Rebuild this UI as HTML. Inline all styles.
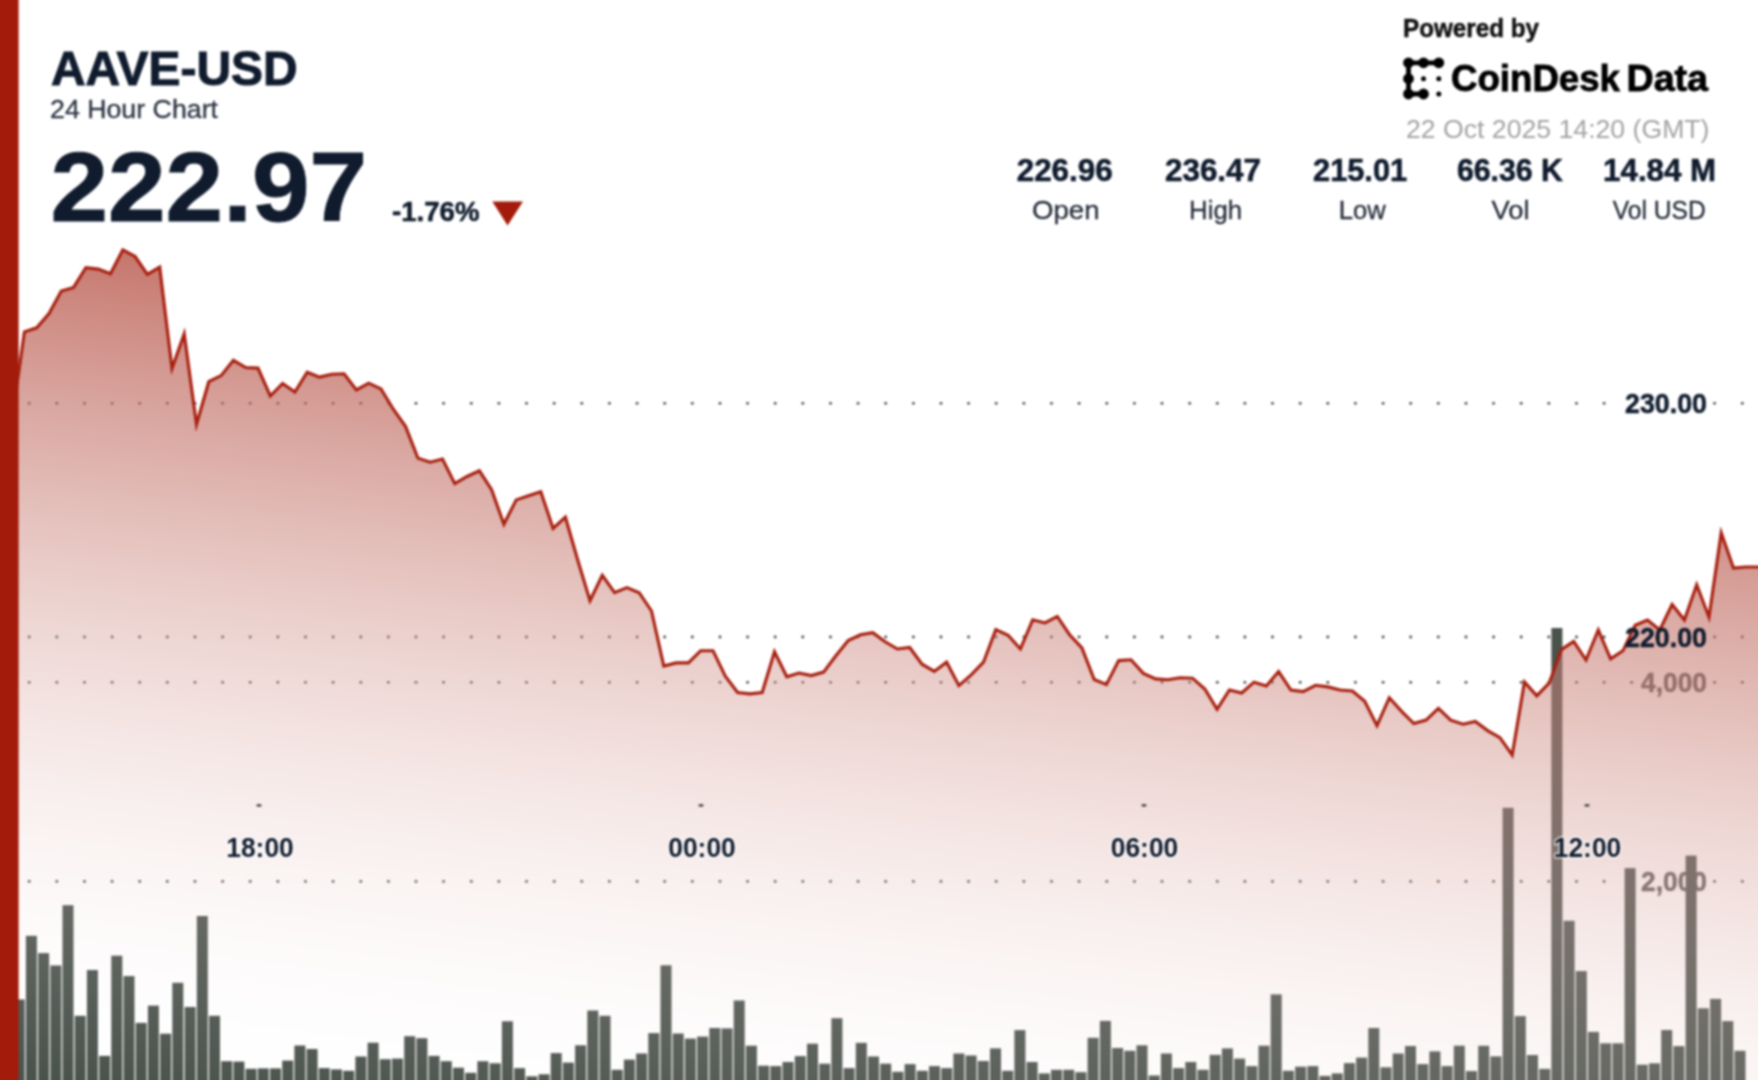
<!DOCTYPE html>
<html lang="en"><head><meta charset="utf-8"><title>AAVE-USD 24 Hour Chart</title>
<style>
html,body{margin:0;padding:0;background:#fff;}
body{width:1758px;height:1080px;overflow:hidden;font-family:"Liberation Sans",sans-serif;}
body{position:relative;}
svg{display:block;position:absolute;left:-30px;top:-30px;filter:blur(1px);}
text{font-family:"Liberation Sans",sans-serif;}
.b{font-weight:700;}
.navy{fill:#101c2e;}
</style></head><body>
<svg width="1818" height="1140" viewBox="-30 -30 1818 1140">
<defs>
<linearGradient id="ag" gradientUnits="userSpaceOnUse" x1="100" y1="31" x2="-26.8" y2="1070.5">
<stop offset="0.0000" stop-color="rgb(160,29,13)" stop-opacity="0.9600"/><stop offset="0.0417" stop-color="rgb(164,39,23)" stop-opacity="0.9200"/><stop offset="0.0833" stop-color="rgb(168,48,33)" stop-opacity="0.8800"/><stop offset="0.1250" stop-color="rgb(172,58,44)" stop-opacity="0.8400"/><stop offset="0.1667" stop-color="rgb(176,67,54)" stop-opacity="0.8000"/><stop offset="0.2083" stop-color="rgb(180,76,64)" stop-opacity="0.7600"/><stop offset="0.2500" stop-color="rgb(184,86,74)" stop-opacity="0.7200"/><stop offset="0.2917" stop-color="rgb(187,95,84)" stop-opacity="0.6800"/><stop offset="0.3333" stop-color="rgb(191,105,94)" stop-opacity="0.6400"/><stop offset="0.3750" stop-color="rgb(195,114,104)" stop-opacity="0.6000"/><stop offset="0.4167" stop-color="rgb(199,123,114)" stop-opacity="0.5600"/><stop offset="0.4583" stop-color="rgb(203,133,124)" stop-opacity="0.5200"/><stop offset="0.5000" stop-color="rgb(207,142,134)" stop-opacity="0.4800"/><stop offset="0.5417" stop-color="rgb(211,152,144)" stop-opacity="0.4400"/><stop offset="0.5833" stop-color="rgb(215,161,154)" stop-opacity="0.4000"/><stop offset="0.6250" stop-color="rgb(219,170,164)" stop-opacity="0.3600"/><stop offset="0.6667" stop-color="rgb(223,180,174)" stop-opacity="0.3200"/><stop offset="0.7083" stop-color="rgb(227,189,185)" stop-opacity="0.2800"/><stop offset="0.7500" stop-color="rgb(231,199,195)" stop-opacity="0.2400"/><stop offset="0.7917" stop-color="rgb(235,208,205)" stop-opacity="0.2000"/><stop offset="0.8333" stop-color="rgb(239,217,215)" stop-opacity="0.1600"/><stop offset="0.8750" stop-color="rgb(243,227,225)" stop-opacity="0.1200"/><stop offset="0.9167" stop-color="rgb(247,236,235)" stop-opacity="0.0800"/><stop offset="0.9583" stop-color="rgb(251,246,245)" stop-opacity="0.0400"/><stop offset="1.0000" stop-color="rgb(255,255,255)" stop-opacity="0.0000"/>
</linearGradient>
</defs>
<g>
<rect x="-30" y="-30" width="1818" height="1140" fill="#fff"/>
<g fill="#454545"><circle cx="29.2" cy="403.3" r="1.4"/><circle cx="56.8" cy="403.3" r="1.4"/><circle cx="84.5" cy="403.3" r="1.4"/><circle cx="112.1" cy="403.3" r="1.4"/><circle cx="139.7" cy="403.3" r="1.4"/><circle cx="167.3" cy="403.3" r="1.4"/><circle cx="195" cy="403.3" r="1.4"/><circle cx="222.6" cy="403.3" r="1.4"/><circle cx="250.2" cy="403.3" r="1.4"/><circle cx="277.9" cy="403.3" r="1.4"/><circle cx="305.5" cy="403.3" r="1.4"/><circle cx="333.1" cy="403.3" r="1.4"/><circle cx="360.8" cy="403.3" r="1.4"/><circle cx="388.4" cy="403.3" r="1.4"/><circle cx="416" cy="403.3" r="1.4"/><circle cx="443.6" cy="403.3" r="1.4"/><circle cx="471.3" cy="403.3" r="1.4"/><circle cx="498.9" cy="403.3" r="1.4"/><circle cx="526.5" cy="403.3" r="1.4"/><circle cx="554.2" cy="403.3" r="1.4"/><circle cx="581.8" cy="403.3" r="1.4"/><circle cx="609.4" cy="403.3" r="1.4"/><circle cx="637.1" cy="403.3" r="1.4"/><circle cx="664.7" cy="403.3" r="1.4"/><circle cx="692.3" cy="403.3" r="1.4"/><circle cx="720" cy="403.3" r="1.4"/><circle cx="747.6" cy="403.3" r="1.4"/><circle cx="775.2" cy="403.3" r="1.4"/><circle cx="802.8" cy="403.3" r="1.4"/><circle cx="830.5" cy="403.3" r="1.4"/><circle cx="858.1" cy="403.3" r="1.4"/><circle cx="885.7" cy="403.3" r="1.4"/><circle cx="913.4" cy="403.3" r="1.4"/><circle cx="941" cy="403.3" r="1.4"/><circle cx="968.6" cy="403.3" r="1.4"/><circle cx="996.2" cy="403.3" r="1.4"/><circle cx="1023.9" cy="403.3" r="1.4"/><circle cx="1051.5" cy="403.3" r="1.4"/><circle cx="1079.1" cy="403.3" r="1.4"/><circle cx="1106.8" cy="403.3" r="1.4"/><circle cx="1134.4" cy="403.3" r="1.4"/><circle cx="1162" cy="403.3" r="1.4"/><circle cx="1189.7" cy="403.3" r="1.4"/><circle cx="1217.3" cy="403.3" r="1.4"/><circle cx="1244.9" cy="403.3" r="1.4"/><circle cx="1272.5" cy="403.3" r="1.4"/><circle cx="1300.2" cy="403.3" r="1.4"/><circle cx="1327.8" cy="403.3" r="1.4"/><circle cx="1355.4" cy="403.3" r="1.4"/><circle cx="1383.1" cy="403.3" r="1.4"/><circle cx="1410.7" cy="403.3" r="1.4"/><circle cx="1438.3" cy="403.3" r="1.4"/><circle cx="1466" cy="403.3" r="1.4"/><circle cx="1493.6" cy="403.3" r="1.4"/><circle cx="1521.2" cy="403.3" r="1.4"/><circle cx="1548.8" cy="403.3" r="1.4"/><circle cx="1576.5" cy="403.3" r="1.4"/><circle cx="1604.1" cy="403.3" r="1.4"/><circle cx="1714.6" cy="403.3" r="1.4"/><circle cx="1742.3" cy="403.3" r="1.4"/><circle cx="29.2" cy="637" r="1.4"/><circle cx="56.8" cy="637" r="1.4"/><circle cx="84.5" cy="637" r="1.4"/><circle cx="112.1" cy="637" r="1.4"/><circle cx="139.7" cy="637" r="1.4"/><circle cx="167.3" cy="637" r="1.4"/><circle cx="195" cy="637" r="1.4"/><circle cx="222.6" cy="637" r="1.4"/><circle cx="250.2" cy="637" r="1.4"/><circle cx="277.9" cy="637" r="1.4"/><circle cx="305.5" cy="637" r="1.4"/><circle cx="333.1" cy="637" r="1.4"/><circle cx="360.8" cy="637" r="1.4"/><circle cx="388.4" cy="637" r="1.4"/><circle cx="416" cy="637" r="1.4"/><circle cx="443.6" cy="637" r="1.4"/><circle cx="471.3" cy="637" r="1.4"/><circle cx="498.9" cy="637" r="1.4"/><circle cx="526.5" cy="637" r="1.4"/><circle cx="554.2" cy="637" r="1.4"/><circle cx="581.8" cy="637" r="1.4"/><circle cx="609.4" cy="637" r="1.4"/><circle cx="637.1" cy="637" r="1.4"/><circle cx="664.7" cy="637" r="1.4"/><circle cx="692.3" cy="637" r="1.4"/><circle cx="720" cy="637" r="1.4"/><circle cx="747.6" cy="637" r="1.4"/><circle cx="775.2" cy="637" r="1.4"/><circle cx="802.8" cy="637" r="1.4"/><circle cx="830.5" cy="637" r="1.4"/><circle cx="858.1" cy="637" r="1.4"/><circle cx="885.7" cy="637" r="1.4"/><circle cx="913.4" cy="637" r="1.4"/><circle cx="941" cy="637" r="1.4"/><circle cx="968.6" cy="637" r="1.4"/><circle cx="996.2" cy="637" r="1.4"/><circle cx="1023.9" cy="637" r="1.4"/><circle cx="1051.5" cy="637" r="1.4"/><circle cx="1079.1" cy="637" r="1.4"/><circle cx="1106.8" cy="637" r="1.4"/><circle cx="1134.4" cy="637" r="1.4"/><circle cx="1162" cy="637" r="1.4"/><circle cx="1189.7" cy="637" r="1.4"/><circle cx="1217.3" cy="637" r="1.4"/><circle cx="1244.9" cy="637" r="1.4"/><circle cx="1272.5" cy="637" r="1.4"/><circle cx="1300.2" cy="637" r="1.4"/><circle cx="1327.8" cy="637" r="1.4"/><circle cx="1355.4" cy="637" r="1.4"/><circle cx="1383.1" cy="637" r="1.4"/><circle cx="1410.7" cy="637" r="1.4"/><circle cx="1438.3" cy="637" r="1.4"/><circle cx="1466" cy="637" r="1.4"/><circle cx="1493.6" cy="637" r="1.4"/><circle cx="1521.2" cy="637" r="1.4"/><circle cx="1548.8" cy="637" r="1.4"/><circle cx="1576.5" cy="637" r="1.4"/><circle cx="1604.1" cy="637" r="1.4"/><circle cx="1714.6" cy="637" r="1.4"/><circle cx="1742.3" cy="637" r="1.4"/><circle cx="29.2" cy="682.3" r="1.4"/><circle cx="56.8" cy="682.3" r="1.4"/><circle cx="84.5" cy="682.3" r="1.4"/><circle cx="112.1" cy="682.3" r="1.4"/><circle cx="139.7" cy="682.3" r="1.4"/><circle cx="167.3" cy="682.3" r="1.4"/><circle cx="195" cy="682.3" r="1.4"/><circle cx="222.6" cy="682.3" r="1.4"/><circle cx="250.2" cy="682.3" r="1.4"/><circle cx="277.9" cy="682.3" r="1.4"/><circle cx="305.5" cy="682.3" r="1.4"/><circle cx="333.1" cy="682.3" r="1.4"/><circle cx="360.8" cy="682.3" r="1.4"/><circle cx="388.4" cy="682.3" r="1.4"/><circle cx="416" cy="682.3" r="1.4"/><circle cx="443.6" cy="682.3" r="1.4"/><circle cx="471.3" cy="682.3" r="1.4"/><circle cx="498.9" cy="682.3" r="1.4"/><circle cx="526.5" cy="682.3" r="1.4"/><circle cx="554.2" cy="682.3" r="1.4"/><circle cx="581.8" cy="682.3" r="1.4"/><circle cx="609.4" cy="682.3" r="1.4"/><circle cx="637.1" cy="682.3" r="1.4"/><circle cx="664.7" cy="682.3" r="1.4"/><circle cx="692.3" cy="682.3" r="1.4"/><circle cx="720" cy="682.3" r="1.4"/><circle cx="747.6" cy="682.3" r="1.4"/><circle cx="775.2" cy="682.3" r="1.4"/><circle cx="802.8" cy="682.3" r="1.4"/><circle cx="830.5" cy="682.3" r="1.4"/><circle cx="858.1" cy="682.3" r="1.4"/><circle cx="885.7" cy="682.3" r="1.4"/><circle cx="913.4" cy="682.3" r="1.4"/><circle cx="941" cy="682.3" r="1.4"/><circle cx="968.6" cy="682.3" r="1.4"/><circle cx="996.2" cy="682.3" r="1.4"/><circle cx="1023.9" cy="682.3" r="1.4"/><circle cx="1051.5" cy="682.3" r="1.4"/><circle cx="1079.1" cy="682.3" r="1.4"/><circle cx="1106.8" cy="682.3" r="1.4"/><circle cx="1134.4" cy="682.3" r="1.4"/><circle cx="1162" cy="682.3" r="1.4"/><circle cx="1189.7" cy="682.3" r="1.4"/><circle cx="1217.3" cy="682.3" r="1.4"/><circle cx="1244.9" cy="682.3" r="1.4"/><circle cx="1272.5" cy="682.3" r="1.4"/><circle cx="1300.2" cy="682.3" r="1.4"/><circle cx="1327.8" cy="682.3" r="1.4"/><circle cx="1355.4" cy="682.3" r="1.4"/><circle cx="1383.1" cy="682.3" r="1.4"/><circle cx="1410.7" cy="682.3" r="1.4"/><circle cx="1438.3" cy="682.3" r="1.4"/><circle cx="1466" cy="682.3" r="1.4"/><circle cx="1493.6" cy="682.3" r="1.4"/><circle cx="1521.2" cy="682.3" r="1.4"/><circle cx="1548.8" cy="682.3" r="1.4"/><circle cx="1576.5" cy="682.3" r="1.4"/><circle cx="1604.1" cy="682.3" r="1.4"/><circle cx="1631.7" cy="682.3" r="1.4"/><circle cx="1714.6" cy="682.3" r="1.4"/><circle cx="1742.3" cy="682.3" r="1.4"/><circle cx="29.2" cy="881.4" r="1.4"/><circle cx="56.8" cy="881.4" r="1.4"/><circle cx="84.5" cy="881.4" r="1.4"/><circle cx="112.1" cy="881.4" r="1.4"/><circle cx="139.7" cy="881.4" r="1.4"/><circle cx="167.3" cy="881.4" r="1.4"/><circle cx="195" cy="881.4" r="1.4"/><circle cx="222.6" cy="881.4" r="1.4"/><circle cx="250.2" cy="881.4" r="1.4"/><circle cx="277.9" cy="881.4" r="1.4"/><circle cx="305.5" cy="881.4" r="1.4"/><circle cx="333.1" cy="881.4" r="1.4"/><circle cx="360.8" cy="881.4" r="1.4"/><circle cx="388.4" cy="881.4" r="1.4"/><circle cx="416" cy="881.4" r="1.4"/><circle cx="443.6" cy="881.4" r="1.4"/><circle cx="471.3" cy="881.4" r="1.4"/><circle cx="498.9" cy="881.4" r="1.4"/><circle cx="526.5" cy="881.4" r="1.4"/><circle cx="554.2" cy="881.4" r="1.4"/><circle cx="581.8" cy="881.4" r="1.4"/><circle cx="609.4" cy="881.4" r="1.4"/><circle cx="637.1" cy="881.4" r="1.4"/><circle cx="664.7" cy="881.4" r="1.4"/><circle cx="692.3" cy="881.4" r="1.4"/><circle cx="720" cy="881.4" r="1.4"/><circle cx="747.6" cy="881.4" r="1.4"/><circle cx="775.2" cy="881.4" r="1.4"/><circle cx="802.8" cy="881.4" r="1.4"/><circle cx="830.5" cy="881.4" r="1.4"/><circle cx="858.1" cy="881.4" r="1.4"/><circle cx="885.7" cy="881.4" r="1.4"/><circle cx="913.4" cy="881.4" r="1.4"/><circle cx="941" cy="881.4" r="1.4"/><circle cx="968.6" cy="881.4" r="1.4"/><circle cx="996.2" cy="881.4" r="1.4"/><circle cx="1023.9" cy="881.4" r="1.4"/><circle cx="1051.5" cy="881.4" r="1.4"/><circle cx="1079.1" cy="881.4" r="1.4"/><circle cx="1106.8" cy="881.4" r="1.4"/><circle cx="1134.4" cy="881.4" r="1.4"/><circle cx="1162" cy="881.4" r="1.4"/><circle cx="1189.7" cy="881.4" r="1.4"/><circle cx="1217.3" cy="881.4" r="1.4"/><circle cx="1244.9" cy="881.4" r="1.4"/><circle cx="1272.5" cy="881.4" r="1.4"/><circle cx="1300.2" cy="881.4" r="1.4"/><circle cx="1327.8" cy="881.4" r="1.4"/><circle cx="1355.4" cy="881.4" r="1.4"/><circle cx="1383.1" cy="881.4" r="1.4"/><circle cx="1410.7" cy="881.4" r="1.4"/><circle cx="1438.3" cy="881.4" r="1.4"/><circle cx="1466" cy="881.4" r="1.4"/><circle cx="1493.6" cy="881.4" r="1.4"/><circle cx="1521.2" cy="881.4" r="1.4"/><circle cx="1548.8" cy="881.4" r="1.4"/><circle cx="1576.5" cy="881.4" r="1.4"/><circle cx="1604.1" cy="881.4" r="1.4"/><circle cx="1631.7" cy="881.4" r="1.4"/><circle cx="1714.6" cy="881.4" r="1.4"/><circle cx="1742.3" cy="881.4" r="1.4"/></g>
<g class="b" font-size="28.5" fill="#5a5a5a" stroke="#5a5a5a" stroke-width="0.5" text-anchor="end">
<text x="1707" y="692" textLength="66" lengthAdjust="spacingAndGlyphs">4,000</text>
<text x="1707" y="891" textLength="66" lengthAdjust="spacingAndGlyphs">2,000</text>
</g>
<g fill="#4a524c"><rect x="13.7" y="999.5" width="11.0" height="100.5"/><rect x="25.9" y="935.8" width="11.0" height="164.2"/><rect x="38.1" y="953.1" width="11.0" height="146.9"/><rect x="50.3" y="965.5" width="11.0" height="134.5"/><rect x="62.5" y="905.2" width="11.0" height="194.8"/><rect x="74.7" y="1015.8" width="11.0" height="84.2"/><rect x="86.9" y="970" width="11.0" height="130"/><rect x="99.1" y="1055.9" width="11.0" height="44.1"/><rect x="111.3" y="955.7" width="11.0" height="144.3"/><rect x="123.5" y="976.1" width="11.0" height="123.9"/><rect x="135.7" y="1022.9" width="11.0" height="77.1"/><rect x="147.9" y="1005.6" width="11.0" height="94.4"/><rect x="160.1" y="1033.7" width="11.0" height="66.3"/><rect x="172.3" y="982.8" width="11.0" height="117.2"/><rect x="184.6" y="1007" width="11.0" height="93"/><rect x="196.8" y="916" width="11.0" height="184"/><rect x="209" y="1015.8" width="11.0" height="84.2"/><rect x="221.2" y="1061.2" width="11.0" height="38.8"/><rect x="233.4" y="1061.6" width="11.0" height="38.4"/><rect x="245.6" y="1068.8" width="11.0" height="31.2"/><rect x="257.8" y="1068.4" width="11.0" height="31.6"/><rect x="270" y="1068.4" width="11.0" height="31.6"/><rect x="282.2" y="1060.6" width="11.0" height="39.4"/><rect x="294.4" y="1045.5" width="11.0" height="54.5"/><rect x="306.6" y="1049" width="11.0" height="51"/><rect x="318.8" y="1068.1" width="11.0" height="31.9"/><rect x="331" y="1069.4" width="11.0" height="30.6"/><rect x="343.2" y="1070.8" width="11.0" height="29.2"/><rect x="355.4" y="1056.5" width="11.0" height="43.5"/><rect x="367.6" y="1042.7" width="11.0" height="57.3"/><rect x="379.8" y="1059.2" width="11.0" height="40.8"/><rect x="392" y="1058.6" width="11.0" height="41.4"/><rect x="404.2" y="1036.2" width="11.0" height="63.8"/><rect x="416.4" y="1038.2" width="11.0" height="61.8"/><rect x="428.6" y="1055.9" width="11.0" height="44.1"/><rect x="440.8" y="1061.2" width="11.0" height="38.8"/><rect x="453" y="1067.7" width="11.0" height="32.3"/><rect x="465.2" y="1072.8" width="11.0" height="27.2"/><rect x="477.4" y="1061.2" width="11.0" height="38.8"/><rect x="489.7" y="1063.3" width="11.0" height="36.7"/><rect x="501.9" y="1021.3" width="11.0" height="78.7"/><rect x="514.1" y="1068.1" width="11.0" height="31.9"/><rect x="526.3" y="1076.3" width="11.0" height="23.7"/><rect x="538.5" y="1074.3" width="11.0" height="25.7"/><rect x="550.7" y="1053.1" width="11.0" height="46.9"/><rect x="562.9" y="1062.6" width="11.0" height="37.4"/><rect x="575.1" y="1045.3" width="11.0" height="54.7"/><rect x="587.3" y="1010.5" width="11.0" height="89.5"/><rect x="599.5" y="1015.8" width="11.0" height="84.2"/><rect x="611.7" y="1069.8" width="11.0" height="30.2"/><rect x="623.9" y="1059.6" width="11.0" height="40.4"/><rect x="636.1" y="1053.5" width="11.0" height="46.5"/><rect x="648.3" y="1033.1" width="11.0" height="66.9"/><rect x="660.5" y="965.3" width="11.0" height="134.7"/><rect x="672.7" y="1033.5" width="11.0" height="66.5"/><rect x="684.9" y="1038.6" width="11.0" height="61.4"/><rect x="697.1" y="1036.6" width="11.0" height="63.4"/><rect x="709.3" y="1028" width="11.0" height="72"/><rect x="721.5" y="1028.4" width="11.0" height="71.6"/><rect x="733.7" y="1000.5" width="11.0" height="99.5"/><rect x="745.9" y="1045.7" width="11.0" height="54.3"/><rect x="758.1" y="1065.7" width="11.0" height="34.3"/><rect x="770.3" y="1066.1" width="11.0" height="33.9"/><rect x="782.5" y="1062" width="11.0" height="38"/><rect x="794.8" y="1056.1" width="11.0" height="43.9"/><rect x="807" y="1043.7" width="11.0" height="56.3"/><rect x="819.2" y="1063.7" width="11.0" height="36.3"/><rect x="831.4" y="1018.2" width="11.0" height="81.8"/><rect x="843.6" y="1068.1" width="11.0" height="31.9"/><rect x="855.8" y="1042.9" width="11.0" height="57.1"/><rect x="868" y="1056.5" width="11.0" height="43.5"/><rect x="880.2" y="1063.7" width="11.0" height="36.3"/><rect x="892.4" y="1071.8" width="11.0" height="28.2"/><rect x="904.6" y="1064.1" width="11.0" height="35.9"/><rect x="916.8" y="1070.8" width="11.0" height="29.2"/><rect x="929" y="1066.1" width="11.0" height="33.9"/><rect x="941.2" y="1068.1" width="11.0" height="31.9"/><rect x="953.4" y="1053.5" width="11.0" height="46.5"/><rect x="965.6" y="1055.5" width="11.0" height="44.5"/><rect x="977.8" y="1061" width="11.0" height="39"/><rect x="990" y="1048.4" width="11.0" height="51.6"/><rect x="1002.2" y="1070.8" width="11.0" height="29.2"/><rect x="1014.4" y="1030.1" width="11.0" height="69.9"/><rect x="1026.6" y="1062" width="11.0" height="38"/><rect x="1038.8" y="1073.4" width="11.0" height="26.6"/><rect x="1051" y="1069.8" width="11.0" height="30.2"/><rect x="1063.2" y="1069.8" width="11.0" height="30.2"/><rect x="1075.4" y="1072.2" width="11.0" height="27.8"/><rect x="1087.6" y="1037.8" width="11.0" height="62.2"/><rect x="1099.9" y="1020.9" width="11.0" height="79.1"/><rect x="1112.1" y="1048" width="11.0" height="52"/><rect x="1124.3" y="1050.8" width="11.0" height="49.2"/><rect x="1136.5" y="1045.3" width="11.0" height="54.7"/><rect x="1148.7" y="1075.5" width="11.0" height="24.5"/><rect x="1160.9" y="1053.5" width="11.0" height="46.5"/><rect x="1173.1" y="1068.1" width="11.0" height="31.9"/><rect x="1185.3" y="1062" width="11.0" height="38"/><rect x="1197.5" y="1069.8" width="11.0" height="30.2"/><rect x="1209.7" y="1054.9" width="11.0" height="45.1"/><rect x="1221.9" y="1048.4" width="11.0" height="51.6"/><rect x="1234.1" y="1058.6" width="11.0" height="41.4"/><rect x="1246.3" y="1066.1" width="11.0" height="33.9"/><rect x="1258.5" y="1045.7" width="11.0" height="54.3"/><rect x="1270.7" y="994.4" width="11.0" height="105.6"/><rect x="1282.9" y="1070.8" width="11.0" height="29.2"/><rect x="1295.1" y="1066.7" width="11.0" height="33.3"/><rect x="1307.3" y="1066.1" width="11.0" height="33.9"/><rect x="1319.5" y="1075.9" width="11.0" height="24.1"/><rect x="1331.7" y="1073.4" width="11.0" height="26.6"/><rect x="1343.9" y="1063.1" width="11.0" height="36.9"/><rect x="1356.1" y="1057.6" width="11.0" height="42.4"/><rect x="1368.3" y="1028" width="11.0" height="72"/><rect x="1380.5" y="1067.3" width="11.0" height="32.7"/><rect x="1392.7" y="1053.5" width="11.0" height="46.5"/><rect x="1405" y="1046" width="11.0" height="54"/><rect x="1417.2" y="1064.1" width="11.0" height="35.9"/><rect x="1429.4" y="1051.4" width="11.0" height="48.6"/><rect x="1441.6" y="1066.1" width="11.0" height="33.9"/><rect x="1453.8" y="1045.7" width="11.0" height="54.3"/><rect x="1466" y="1071.1" width="11.0" height="28.9"/><rect x="1478.2" y="1045.8" width="11.0" height="54.2"/><rect x="1490.4" y="1056.4" width="11.0" height="43.6"/><rect x="1502.6" y="807.8" width="11.0" height="292.2"/><rect x="1514.8" y="1016.1" width="11.0" height="83.9"/><rect x="1527" y="1055" width="11.0" height="45"/><rect x="1539.2" y="1068.9" width="11.0" height="31.1"/><rect x="1551.4" y="628" width="11.0" height="472"/><rect x="1563.6" y="920.8" width="11.0" height="179.2"/><rect x="1575.8" y="971.1" width="11.0" height="128.9"/><rect x="1588" y="1031.9" width="11.0" height="68.1"/><rect x="1600.2" y="1043.3" width="11.0" height="56.7"/><rect x="1612.4" y="1043.3" width="11.0" height="56.7"/><rect x="1624.6" y="868.1" width="11.0" height="231.9"/><rect x="1636.8" y="1064.7" width="11.0" height="35.3"/><rect x="1649" y="1063.3" width="11.0" height="36.7"/><rect x="1661.2" y="1030" width="11.0" height="70"/><rect x="1673.4" y="1046.1" width="11.0" height="53.9"/><rect x="1685.6" y="855.6" width="11.0" height="244.4"/><rect x="1697.8" y="1008.3" width="11.0" height="91.7"/><rect x="1710.1" y="998.9" width="11.0" height="101.1"/><rect x="1722.3" y="1021.1" width="11.0" height="78.9"/><rect x="1734.5" y="1050.8" width="11.0" height="49.2"/></g>
<path d="M12.1 420 L24.4 331.8 L36.7 327.8 L49 313.5 L61.3 291.1 L73.6 287.4 L85.9 267.7 L98.2 269.1 L110.5 273.8 L122.8 249.8 L135.1 256.5 L147.4 274.4 L159.7 267.1 L172 368.5 L184.2 333.9 L196.5 424.5 L208.8 381.7 L221.1 375.6 L233.4 360.3 L245.7 367.5 L258 368.1 L270.3 396 L282.6 383.5 L294.9 392 L307.2 372.2 L319.5 377.1 L331.8 374.2 L344.1 373.8 L356.4 389.9 L368.7 383.2 L381 388.9 L393.3 409.2 L405.6 426.6 L417.9 458.1 L430.2 462.2 L442.5 459.1 L454.8 483.6 L467.1 476.5 L479.4 470.8 L491.6 489.7 L503.9 524.3 L516.2 499.9 L528.5 495.8 L540.8 491.7 L553.1 528.4 L565.4 517.2 L577.7 560 L590 600.8 L602.3 575.4 L614.6 592.7 L626.9 587.6 L639.2 592.7 L651.5 611 L663.8 666 L676.1 662.9 L688.4 662.9 L700.7 650.7 L713 650.7 L725.3 676.2 L737.6 692.5 L749.9 693.9 L762.2 692.5 L774.5 651.7 L786.8 676.8 L799 673.1 L811.3 675.6 L823.6 672.1 L835.9 655.8 L848.2 640.5 L860.5 634.8 L872.8 632.7 L885.1 641.8 L897.4 649 L909.7 647.5 L922 664.2 L934.3 671.4 L946.6 662.2 L958.9 685.6 L971.2 674.8 L983.5 662.2 L995.8 629.6 L1008.1 635.3 L1020.4 649 L1032.7 619.8 L1045 622.9 L1057.3 616.4 L1069.6 634.7 L1081.9 647.9 L1094.2 679.5 L1106.4 684.6 L1118.7 660.6 L1131 659.8 L1143.3 673.4 L1155.6 678.9 L1167.9 679.8 L1180.2 677.8 L1192.5 678.2 L1204.8 689 L1217.1 709.3 L1229.4 690 L1241.7 693 L1254 682.2 L1266.3 685.9 L1278.6 671.6 L1290.9 690 L1303.2 691.6 L1315.5 685.3 L1327.8 686.9 L1340.1 690 L1352.4 691 L1364.7 701.2 L1377 725.6 L1389.3 697.7 L1401.6 711.4 L1413.8 723.6 L1426.1 720.1 L1438.4 708.3 L1450.7 720.2 L1463 724.2 L1475.3 721.4 L1487.6 730.6 L1499.9 737.6 L1512.2 755 L1524.5 682 L1536.8 695.9 L1549.1 683.2 L1561.4 649.6 L1573.7 641.5 L1586 660 L1598.3 630 L1610.6 658.9 L1622.9 650.8 L1635.2 625.3 L1647.5 620 L1659.8 630 L1672.1 604.5 L1684.4 620 L1696.7 584.8 L1709 617.2 L1721.2 532.7 L1733.5 568.1 L1745.8 567 L1780 567 L1780 567 L1780 1100 L12 1100 Z" fill="url(#ag)"/>
<path d="M12.1 420 L24.4 331.8 L36.7 327.8 L49 313.5 L61.3 291.1 L73.6 287.4 L85.9 267.7 L98.2 269.1 L110.5 273.8 L122.8 249.8 L135.1 256.5 L147.4 274.4 L159.7 267.1 L172 368.5 L184.2 333.9 L196.5 424.5 L208.8 381.7 L221.1 375.6 L233.4 360.3 L245.7 367.5 L258 368.1 L270.3 396 L282.6 383.5 L294.9 392 L307.2 372.2 L319.5 377.1 L331.8 374.2 L344.1 373.8 L356.4 389.9 L368.7 383.2 L381 388.9 L393.3 409.2 L405.6 426.6 L417.9 458.1 L430.2 462.2 L442.5 459.1 L454.8 483.6 L467.1 476.5 L479.4 470.8 L491.6 489.7 L503.9 524.3 L516.2 499.9 L528.5 495.8 L540.8 491.7 L553.1 528.4 L565.4 517.2 L577.7 560 L590 600.8 L602.3 575.4 L614.6 592.7 L626.9 587.6 L639.2 592.7 L651.5 611 L663.8 666 L676.1 662.9 L688.4 662.9 L700.7 650.7 L713 650.7 L725.3 676.2 L737.6 692.5 L749.9 693.9 L762.2 692.5 L774.5 651.7 L786.8 676.8 L799 673.1 L811.3 675.6 L823.6 672.1 L835.9 655.8 L848.2 640.5 L860.5 634.8 L872.8 632.7 L885.1 641.8 L897.4 649 L909.7 647.5 L922 664.2 L934.3 671.4 L946.6 662.2 L958.9 685.6 L971.2 674.8 L983.5 662.2 L995.8 629.6 L1008.1 635.3 L1020.4 649 L1032.7 619.8 L1045 622.9 L1057.3 616.4 L1069.6 634.7 L1081.9 647.9 L1094.2 679.5 L1106.4 684.6 L1118.7 660.6 L1131 659.8 L1143.3 673.4 L1155.6 678.9 L1167.9 679.8 L1180.2 677.8 L1192.5 678.2 L1204.8 689 L1217.1 709.3 L1229.4 690 L1241.7 693 L1254 682.2 L1266.3 685.9 L1278.6 671.6 L1290.9 690 L1303.2 691.6 L1315.5 685.3 L1327.8 686.9 L1340.1 690 L1352.4 691 L1364.7 701.2 L1377 725.6 L1389.3 697.7 L1401.6 711.4 L1413.8 723.6 L1426.1 720.1 L1438.4 708.3 L1450.7 720.2 L1463 724.2 L1475.3 721.4 L1487.6 730.6 L1499.9 737.6 L1512.2 755 L1524.5 682 L1536.8 695.9 L1549.1 683.2 L1561.4 649.6 L1573.7 641.5 L1586 660 L1598.3 630 L1610.6 658.9 L1622.9 650.8 L1635.2 625.3 L1647.5 620 L1659.8 630 L1672.1 604.5 L1684.4 620 L1696.7 584.8 L1709 617.2 L1721.2 532.7 L1733.5 568.1 L1745.8 567 L1780 567" fill="none" stroke="#a82010" stroke-width="3.1" stroke-linejoin="miter" stroke-miterlimit="8"/>
<rect x="-30" y="-30" width="48.6" height="1140" fill="#a31b0a"/>
<g class="b navy" font-size="28.5" text-anchor="end" stroke="#101c2e" stroke-width="0.5">
<text x="1707" y="413" textLength="82" lengthAdjust="spacingAndGlyphs">230.00</text>
<text x="1707" y="647" textLength="82" lengthAdjust="spacingAndGlyphs">220.00</text>
</g>
<g fill="#333"><rect x="256.7" y="804.3" width="4.6" height="2.2"/><rect x="698.7" y="804.3" width="4.6" height="2.2"/><rect x="1141.7" y="804.3" width="4.6" height="2.2"/><rect x="1584.7" y="804.3" width="4.6" height="2.2"/></g>
<g class="b navy" font-size="28.5" text-anchor="middle" stroke="#fff" stroke-opacity="0.6" stroke-width="3.5" paint-order="stroke" stroke-linejoin="round">
<text x="260" y="857.2" textLength="67.5" lengthAdjust="spacingAndGlyphs">18:00</text>
<text x="702" y="857.2" textLength="67.5" lengthAdjust="spacingAndGlyphs">00:00</text>
<text x="1144.5" y="857.2" textLength="67.5" lengthAdjust="spacingAndGlyphs">06:00</text>
<text x="1587.5" y="857.2" textLength="67.5" lengthAdjust="spacingAndGlyphs">12:00</text>
</g>
<!-- header -->
<text class="b navy" x="51" y="84.6" font-size="48.6" textLength="246.5" stroke="#101c2e" stroke-width="1" lengthAdjust="spacingAndGlyphs">AAVE-USD</text>
<text x="50" y="118.2" font-size="26.5" fill="#2b3442" stroke="#2b3442" stroke-width="0.3" textLength="168" lengthAdjust="spacingAndGlyphs">24 Hour Chart</text>
<text class="b navy" x="50.5" y="221" font-size="98.5" textLength="316.5" stroke="#101c2e" stroke-width="1" lengthAdjust="spacingAndGlyphs">222.97</text>
<text class="b navy" x="392" y="221" font-size="27.5" textLength="87.5" stroke="#101c2e" stroke-width="0.5" lengthAdjust="spacingAndGlyphs">-1.76%</text>
<path d="M492.3 201.6 L523 201.6 L507.6 225.4 Z" fill="#a31b0a"/>
<!-- stats -->
<g class="b navy" font-size="31.5" text-anchor="middle" stroke="#101c2e" stroke-width="0.6">
<text x="1064.7" y="180.6" textLength="96" lengthAdjust="spacingAndGlyphs">226.96</text>
<text x="1213" y="180.6" textLength="96" lengthAdjust="spacingAndGlyphs">236.47</text>
<text x="1360.1" y="180.6" textLength="94" lengthAdjust="spacingAndGlyphs">215.01</text>
<text x="1509.9" y="180.6" textLength="106" lengthAdjust="spacingAndGlyphs">66.36 K</text>
<text x="1659.6" y="180.6" textLength="113" lengthAdjust="spacingAndGlyphs">14.84 M</text>
</g>
<g font-size="26" fill="#252d3a" text-anchor="middle" stroke="#252d3a" stroke-width="0.3">
<text x="1065.8" y="219" textLength="67.5" lengthAdjust="spacingAndGlyphs">Open</text>
<text x="1215.6" y="219" textLength="53" lengthAdjust="spacingAndGlyphs">High</text>
<text x="1362.2" y="219" textLength="47" lengthAdjust="spacingAndGlyphs">Low</text>
<text x="1510.6" y="219" textLength="38" lengthAdjust="spacingAndGlyphs">Vol</text>
<text x="1659.3" y="219" textLength="93" lengthAdjust="spacingAndGlyphs">Vol USD</text>
</g>
<!-- logo -->
<text class="b" x="1403" y="37" font-size="26" fill="#111" stroke="#111" stroke-width="0.5" textLength="136" lengthAdjust="spacingAndGlyphs">Powered by</text>
<g id="logo" fill="#000" stroke="#000" stroke-width="4.8" stroke-linecap="round">
<path d="M1408.5 62.8 H1438.8 M1408.5 62.8 V94 H1423.5" fill="none"/>
<g stroke="none"><circle cx="1408.5" cy="62.8" r="5.4"/><circle cx="1423.5" cy="62.8" r="5.4"/><circle cx="1438.8" cy="62.8" r="5.4"/><circle cx="1408.5" cy="78.7" r="5.4"/><circle cx="1408.5" cy="94" r="5.4"/><circle cx="1423.5" cy="94" r="5.4"/>
<circle cx="1423.5" cy="78.7" r="2.5"/><circle cx="1438.8" cy="78.7" r="2.5"/><circle cx="1438.8" cy="94" r="2.5"/></g>
</g>
<text class="b" x="1451" y="91.4" font-size="36.5" fill="#000" stroke="#000" stroke-width="0.8" textLength="169" lengthAdjust="spacingAndGlyphs">CoinDesk</text>
<text class="b" x="1626.5" y="91.4" font-size="36.5" fill="#000" stroke="#000" stroke-width="0.8" textLength="81.5" lengthAdjust="spacingAndGlyphs">Data</text>
<text x="1406" y="137.6" font-size="26" fill="#a3a3a3" textLength="303.5" lengthAdjust="spacingAndGlyphs">22 Oct 2025 14:20 (GMT)</text>
</g>
</svg>
</body></html>
